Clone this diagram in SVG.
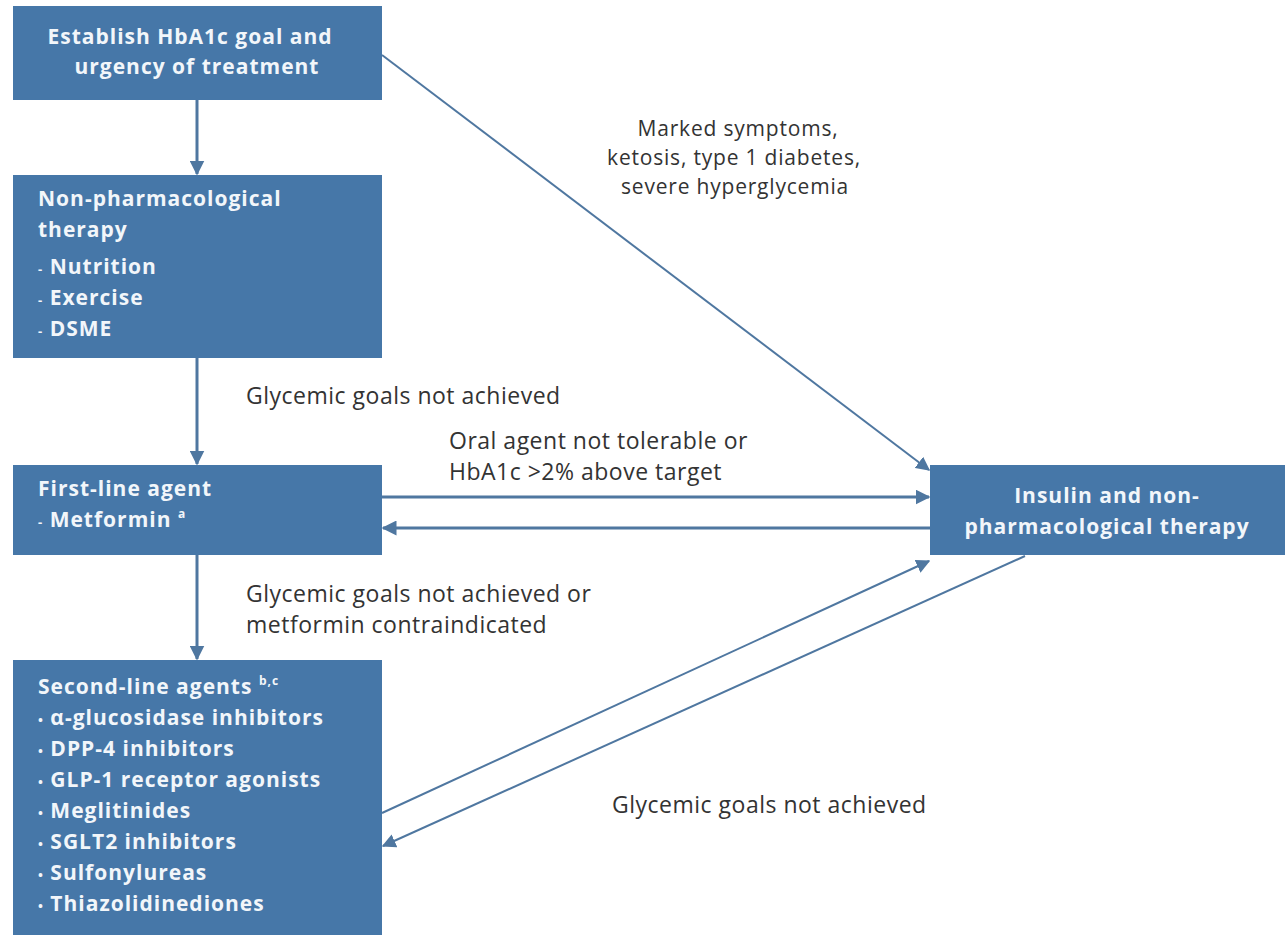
<svg xmlns="http://www.w3.org/2000/svg" width="1285" height="937" viewBox="0 0 1285 937">
<defs>
<style>
.box{fill:#4677a8;}
.bt{font-family:"Open Sans",Lato,"Liberation Sans",sans-serif;font-size:21px;font-weight:bold;fill:#f2f6fa;letter-spacing:1px;}
.lt{font-family:"Open Sans",Lato,"Liberation Sans",sans-serif;font-size:23px;fill:#333333;letter-spacing:0.5px;}
.ms{font-size:21px;letter-spacing:0.8px;}
.c{stroke:#4f77a0;fill:none;}
.b{font-size:13px;}
</style>
<marker id="ah" viewBox="0 0 10 10" refX="9" refY="5" markerWidth="5" markerHeight="5" orient="auto" markerUnits="strokeWidth">
<path d="M0,0 L10,5 L0,10 z" fill="#4f77a0"/>
</marker>
<marker id="ah2" viewBox="0 0 10 10" refX="9" refY="5" markerWidth="7" markerHeight="7" orient="auto" markerUnits="strokeWidth">
<path d="M0,0 L10,5 L0,10 z" fill="#4f77a0"/>
</marker>
</defs>
<rect width="1285" height="937" fill="#ffffff"/>
<g id="connectors">
<line class="c" x1="197" y1="100" x2="197" y2="174" stroke-width="3" marker-end="url(#ah)"/>
<line class="c" x1="197" y1="358" x2="197" y2="464" stroke-width="3" marker-end="url(#ah)"/>
<line class="c" x1="197" y1="555" x2="197" y2="659" stroke-width="3" marker-end="url(#ah)"/>
<line class="c" x1="382" y1="55" x2="929" y2="470" stroke-width="2" marker-end="url(#ah2)"/>
<line class="c" x1="382" y1="497" x2="929" y2="497" stroke-width="3" marker-end="url(#ah)"/>
<line class="c" x1="930" y1="528" x2="383" y2="528" stroke-width="3" marker-end="url(#ah)"/>
<line class="c" x1="382" y1="813" x2="929" y2="561" stroke-width="2" marker-end="url(#ah2)"/>
<line class="c" x1="1025" y1="556" x2="383" y2="846" stroke-width="2" marker-end="url(#ah2)"/>
</g>
<g id="labels">
<text class="lt ms" x="738" y="136" text-anchor="middle">Marked symptoms,</text>
<text class="lt ms" x="734" y="165" text-anchor="middle">ketosis, type 1 diabetes,</text>
<text class="lt ms" x="735" y="194" text-anchor="middle">severe hyperglycemia</text>
<text class="lt" x="246" y="404">Glycemic goals not achieved</text>
<text class="lt" x="449" y="449">Oral agent not tolerable or</text>
<text class="lt" x="449" y="480">HbA1c &gt;2% above target</text>
<text class="lt" x="246" y="602">Glycemic goals not achieved or</text>
<text class="lt" x="246" y="633">metformin contraindicated</text>
<text class="lt" x="612" y="813">Glycemic goals not achieved</text>
</g>
<g id="node-establish">
<rect class="box" x="13" y="6" width="369" height="94"/>
<text class="bt" x="190" y="44" text-anchor="middle">Establish HbA1c goal and</text>
<text class="bt" x="197" y="74" text-anchor="middle">urgency of treatment</text>
</g>
<g id="node-nonpharm">
<rect class="box" x="13" y="175" width="369" height="183"/>
<text class="bt" x="38" y="206">Non-pharmacological</text>
<text class="bt" x="38" y="237">therapy</text>
<text class="bt" x="38" y="274"><tspan class="b">-</tspan> Nutrition</text>
<text class="bt" x="38" y="305"><tspan class="b">-</tspan> Exercise</text>
<text class="bt" x="38" y="336"><tspan class="b">-</tspan> DSME</text>
</g>
<g id="node-firstline">
<rect class="box" x="13" y="465" width="369" height="90"/>
<text class="bt" x="38" y="496">First-line agent</text>
<text class="bt" x="38" y="527"><tspan class="b">-</tspan> Metformin <tspan font-size="12" dy="-9">a</tspan></text>
</g>
<g id="node-secondline">
<rect class="box" x="13" y="660" width="369" height="275"/>
<text class="bt" x="38" y="694">Second-line agents <tspan font-size="12" dy="-9">b,c</tspan></text>
<text class="bt" x="38" y="725"><tspan class="b">•</tspan> α-glucosidase inhibitors</text>
<text class="bt" x="38" y="756"><tspan class="b">•</tspan> DPP-4 inhibitors</text>
<text class="bt" x="38" y="787"><tspan class="b">•</tspan> GLP-1 receptor agonists</text>
<text class="bt" x="38" y="818"><tspan class="b">•</tspan> Meglitinides</text>
<text class="bt" x="38" y="849"><tspan class="b">•</tspan> SGLT2 inhibitors</text>
<text class="bt" x="38" y="880"><tspan class="b">•</tspan> Sulfonylureas</text>
<text class="bt" x="38" y="911"><tspan class="b">•</tspan> Thiazolidinediones</text>
</g>
<g id="node-insulin">
<rect class="box" x="930" y="465" width="355" height="90"/>
<text class="bt" x="1107" y="503" text-anchor="middle">Insulin and non-</text>
<text class="bt" x="1107" y="534" text-anchor="middle">pharmacological therapy</text>
</g>
</svg>
